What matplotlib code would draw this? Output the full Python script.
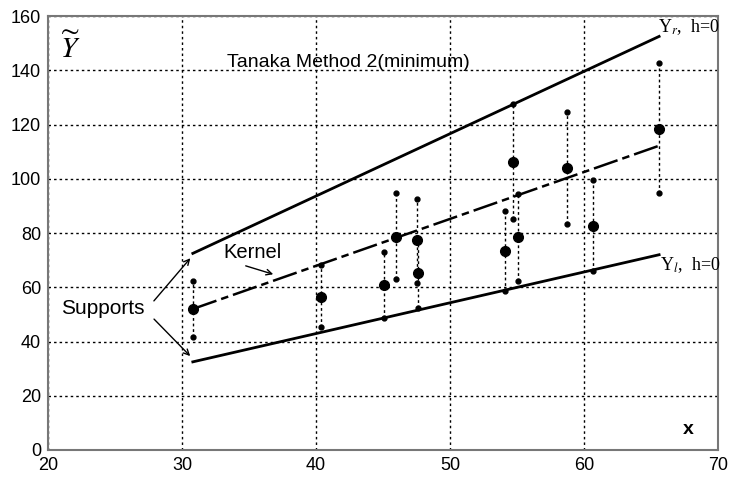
import matplotlib
matplotlib.use('Agg')
import matplotlib.pyplot as plt

# observations: x, centre, upper, lower
obs_x = [30.8, 40.35, 45.1, 46.0, 47.5, 47.6, 54.1, 54.7, 55.1, 58.7, 60.7, 65.6]
obs_c = [52.0, 56.5, 60.9, 78.6, 77.5, 65.3, 73.4, 106.3, 78.6, 104.1, 82.7, 118.5]
obs_u = [62.4, 68.3, 73.0, 94.8, 92.6, 77.5, 88.2, 127.7, 94.5, 124.7, 99.6, 142.8]
obs_l = [41.7, 45.4, 48.7, 63.0, 61.6, 52.4, 58.7, 85.2, 62.4, 83.4, 66.0, 94.8]

# fitted lines (end points)
line_x = [30.8, 65.6]
upper_y = [72.5, 152.5]
kernel_y = [52.0, 112.2]
lower_y = [32.5, 72.0]

xticks = [20, 30, 40, 50, 60, 70]
yticks = [0, 20, 40, 60, 80, 100, 120, 140, 160]

plt.rcParams['font.family'] = ['Liberation Sans', 'DejaVu Sans']

fig = plt.figure(figsize=(7.29, 4.80), dpi=100)
ax = fig.add_axes([0.066, 0.0625, 0.919, 0.904])

ax.set_xlim(20, 70)
ax.set_ylim(0, 160)
ax.set_xticks(xticks)
ax.set_yticks(yticks)
ax.tick_params(length=0, labelsize=13, pad=5)
ax.grid(True, color='black', linestyle=(0, (1.8, 2.2)), linewidth=1)
for s in ax.spines.values():
    s.set_color('#777777')
    s.set_linewidth(1.5)

# spreads of the observations
for x, c, u, l in zip(obs_x, obs_c, obs_u, obs_l):
    ax.plot([x, x], [l, u], color='black', linestyle=(0, (2, 2)), linewidth=1)
    ax.plot([x, x], [l, u], 'o', color='black', markersize=3.5)
    ax.plot(x, c, 'o', color='black', markersize=7)

ax.plot(line_x, upper_y, color='black', linewidth=2)
ax.plot(line_x, lower_y, color='black', linewidth=2)
ax.plot(line_x, kernel_y, color='black', linewidth=1.8, linestyle=(0, (10, 2, 3, 2)))

ax.text(33.36, 142.7, 'Tanaka Method 2(minimum)', fontsize=14, va='center')
ax.text(20.9, 148, r'$\widetilde{Y}$', fontsize=21, va='center',
        math_fontfamily='stix')
ax.text(67.8, 7.4, 'x', fontsize=14, fontweight='bold', ha='center', va='center')

ax.text(65.5, 155.9, r'Y$_r$,  h=0', fontsize=13, va='center',
        family='Liberation Serif', math_fontfamily='stix', clip_on=False)
ax.text(65.7, 68.2, r'Y$_l$,  h=0', fontsize=13, va='center',
        family='Liberation Serif', math_fontfamily='stix', clip_on=False)

ax.text(20.95, 52.3, 'Supports', fontsize=15, va='center')
ax.annotate('', xy=(30.75, 71.5), xytext=(27.76, 54.2),
            arrowprops=dict(arrowstyle='->', color='black', lw=1))
ax.annotate('', xy=(30.75, 33.9), xytext=(27.76, 49.0),
            arrowprops=dict(arrowstyle='->', color='black', lw=1))

ax.text(33.1, 73, 'Kernel', fontsize=14.5, va='center')
ax.annotate('', xy=(37.0, 64.5), xytext=(34.55, 68.2),
            arrowprops=dict(arrowstyle='->', color='black', lw=1))

fig.savefig('out.png', dpi=100)
